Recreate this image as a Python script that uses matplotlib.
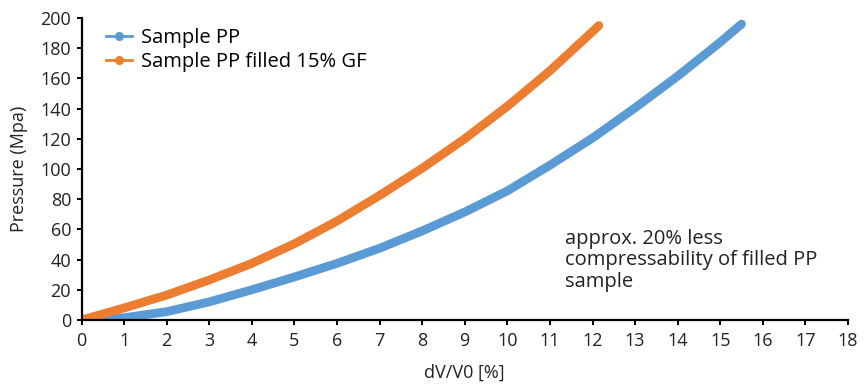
import matplotlib
matplotlib.use("Agg")
import matplotlib.pyplot as plt
from matplotlib.lines import Line2D

plt.rcParams['font.family'] = ['Open Sans', 'DejaVu Sans']

x_pp = [0, 1, 2, 3, 4, 5, 6, 7, 8, 9, 10, 11, 12, 13, 14, 15, 15.5]
y_pp = [0, 1.5, 5.5, 12, 20, 28.5, 37.5, 47.5, 59, 71.5, 85.5, 102.5, 120.5, 140.5, 161.5, 184, 196]

x_gf = [0, 1, 2, 3, 4, 5, 6, 7, 8, 9, 10, 11, 12, 12.15]
y_gf = [0, 8, 16.5, 26.5, 37.5, 50.5, 65.5, 82.5, 100.5, 120, 141.5, 165, 191, 195]

labels = ["Sample PP", "Sample PP filled 15% GF"]
colors = ["#5B9BD5", "#ED7D31"]
txt = '#222222'
FS = 13
FS2 = 14.5

fig = plt.figure(figsize=(8.65, 3.86), dpi=100)
ax = fig.add_axes([81.5 / 865, 66 / 386, 766.5 / 865, 302 / 386])

ax.plot(x_pp, y_pp, color=colors[0], lw=6.3, solid_capstyle='round', solid_joinstyle='round')
ax.plot(x_gf, y_gf, color=colors[1], lw=6.3, solid_capstyle='round', solid_joinstyle='round')

ax.set_xlim(0, 18)
ax.set_ylim(0, 200)
ax.set_xticks(range(0, 19))
ax.set_yticks(range(0, 201, 20))
for s in ['top', 'right']:
    ax.spines[s].set_visible(False)
for s in ['left', 'bottom']:
    ax.spines[s].set_linewidth(1.6)
    ax.spines[s].set_color('black')
ax.tick_params(axis='x', direction='out', length=3.5, width=1.4, labelsize=FS, pad=5)
ax.tick_params(axis='y', direction='out', length=3.5, width=1.4, labelsize=FS, pad=4)
ax.tick_params(colors='black', labelcolor=txt)
ax.set_xlabel("dV/V0 [%]", fontsize=FS, color=txt, labelpad=10)
ax.set_ylabel("Pressure (Mpa)", fontsize=FS, color=txt, labelpad=9)

handles = [Line2D([0], [0], color=c, lw=2, marker='o', markersize=5.5) for c in colors]
fig.legend(handles, labels, loc='upper left', bbox_to_anchor=(106 / 865, 1 - 28 / 386),
           frameon=False, fontsize=FS2, handlelength=1.3, handletextpad=0.45,
           labelspacing=0.2, borderpad=0, borderaxespad=0)

ax.text(11.35, 39.5, "approx. 20% less\ncompressability of filled PP\nsample", fontsize=FS2,
        color=txt, va='center', ha='left', linespacing=1.12)

fig.savefig("out.png", dpi=100)
